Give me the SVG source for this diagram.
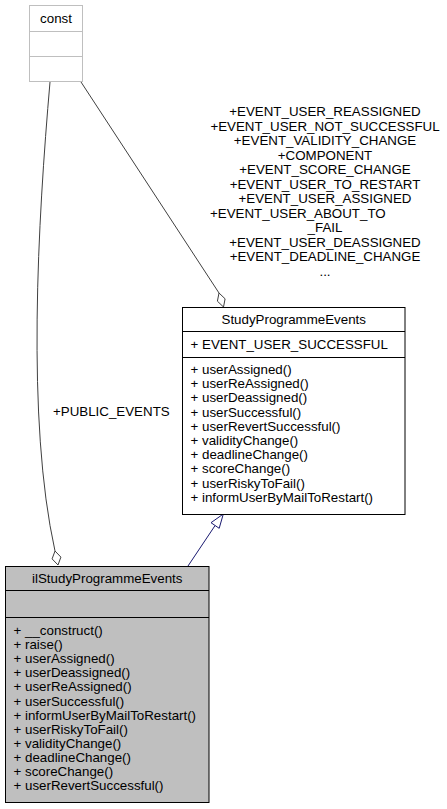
<svg xmlns="http://www.w3.org/2000/svg" width="447" height="809" viewBox="0 0 447 809">
<style>
  text { font-family: "Liberation Sans", Arial, Helvetica, sans-serif; font-size: 13.33px; fill: #000000; }
  .c { text-anchor: middle; }
  .box { fill: #ffffff; stroke: #000000; stroke-width: 1; }
  .gbox { fill: #ffffff; stroke: #bfbfbf; stroke-width: 1; }
  .cur { fill: #bfbfbf; stroke: #000000; stroke-width: 1; }
  .sep { stroke: #000000; stroke-width: 1; fill: none; }
  .gsep { stroke: #bfbfbf; stroke-width: 1; fill: none; }
  .use { stroke: #404040; stroke-width: 1; fill: none; }
  .dia { fill: #ffffff; stroke: #404040; stroke-width: 1; }
  .inh { stroke: #191970; stroke-width: 1; fill: none; }
  .tri { fill: #ffffff; stroke: #191970; stroke-width: 1; }
</style>

<g id="connectors">
  <!-- const -> StudyProgrammeEvents (aggregation) -->
  <path class="use" d="M81,82 L219,293"/>
  <polygon class="dia" points="219,293 225.1,298.8 223.5,307 217.4,301.2"/>
  <!-- const -> ilStudyProgrammeEvents (aggregation) -->
  <path class="use" d="M50,82 C38,220 26,420 55,551"/>
  <polygon class="dia" points="55,551 60.9,557.1 58,565 52.1,558.9"/>
  <!-- ilStudyProgrammeEvents -> StudyProgrammeEvents (inheritance) -->
  <path class="inh" d="M188,566 L215.1,525.5"/>
  <polygon class="tri" points="223.3,514 219.2,528.3 211,522.7"/>
  <!-- edge labels -->
  <text x="53" y="416">+PUBLIC_EVENTS</text>
  <text class="c" x="325" y="116">+EVENT_USER_REASSIGNED</text>
  <text class="c" x="325" y="130.5">+EVENT_USER_NOT_SUCCESSFUL</text>
  <text class="c" x="325" y="145">+EVENT_VALIDITY_CHANGE</text>
  <text class="c" x="325" y="159.5">+COMPONENT</text>
  <text class="c" x="325" y="174">+EVENT_SCORE_CHANGE</text>
  <text class="c" x="325" y="188.5">+EVENT_USER_TO_RESTART</text>
  <text class="c" x="325" y="203">+EVENT_USER_ASSIGNED</text>
  <text x="210" y="217.5">+EVENT_USER_ABOUT_TO</text>
  <text class="c" x="325" y="232">_FAIL</text>
  <text class="c" x="325" y="246.5">+EVENT_USER_DEASSIGNED</text>
  <text class="c" x="325" y="261">+EVENT_DEADLINE_CHANGE</text>
  <text class="c" x="325" y="275.5">...</text>
</g>

<g id="node-const">
  <rect class="gbox" x="29.5" y="5.5" width="53" height="76"/>
  <line class="gsep" x1="29.5" y1="31.5" x2="82.5" y2="31.5"/>
  <line class="gsep" x1="29.5" y1="56.5" x2="82.5" y2="56.5"/>
  <text class="c" x="56" y="22.5">const</text>
</g>

<g id="node-StudyProgrammeEvents">
  <rect class="box" x="182.5" y="307.5" width="222.5" height="207"/>
  <line class="sep" x1="182.5" y1="331.5" x2="405" y2="331.5"/>
  <line class="sep" x1="182.5" y1="357.5" x2="405" y2="357.5"/>
  <text class="c" x="293.75" y="323.5">StudyProgrammeEvents</text>
  <text x="190.5" y="348.5">+ EVENT_USER_SUCCESSFUL</text>
  <text x="190.5" y="374">+ userAssigned()</text>
  <text x="190.5" y="388.2">+ userReAssigned()</text>
  <text x="190.5" y="402.4">+ userDeassigned()</text>
  <text x="190.5" y="416.6">+ userSuccessful()</text>
  <text x="190.5" y="430.8">+ userRevertSuccessful()</text>
  <text x="190.5" y="445">+ validityChange()</text>
  <text x="190.5" y="459.2">+ deadlineChange()</text>
  <text x="190.5" y="473.4">+ scoreChange()</text>
  <text x="190.5" y="487.6">+ userRiskyToFail()</text>
  <text x="190.5" y="501.8">+ informUserByMailToRestart()</text>
</g>

<g id="node-ilStudyProgrammeEvents">
  <rect class="cur" x="5.5" y="566.5" width="203.5" height="236"/>
  <line class="sep" x1="5.5" y1="590.5" x2="209" y2="590.5"/>
  <line class="sep" x1="5.5" y1="617.5" x2="209" y2="617.5"/>
  <text class="c" x="107.25" y="583">ilStudyProgrammeEvents</text>
  <text x="13.5" y="635">+ __construct()</text>
  <text x="13.5" y="649.1">+ raise()</text>
  <text x="13.5" y="663.2">+ userAssigned()</text>
  <text x="13.5" y="677.3">+ userDeassigned()</text>
  <text x="13.5" y="691.4">+ userReAssigned()</text>
  <text x="13.5" y="705.5">+ userSuccessful()</text>
  <text x="13.5" y="719.6">+ informUserByMailToRestart()</text>
  <text x="13.5" y="733.7">+ userRiskyToFail()</text>
  <text x="13.5" y="747.8">+ validityChange()</text>
  <text x="13.5" y="761.9">+ deadlineChange()</text>
  <text x="13.5" y="776">+ scoreChange()</text>
  <text x="13.5" y="790.1">+ userRevertSuccessful()</text>
</g>
</svg>
